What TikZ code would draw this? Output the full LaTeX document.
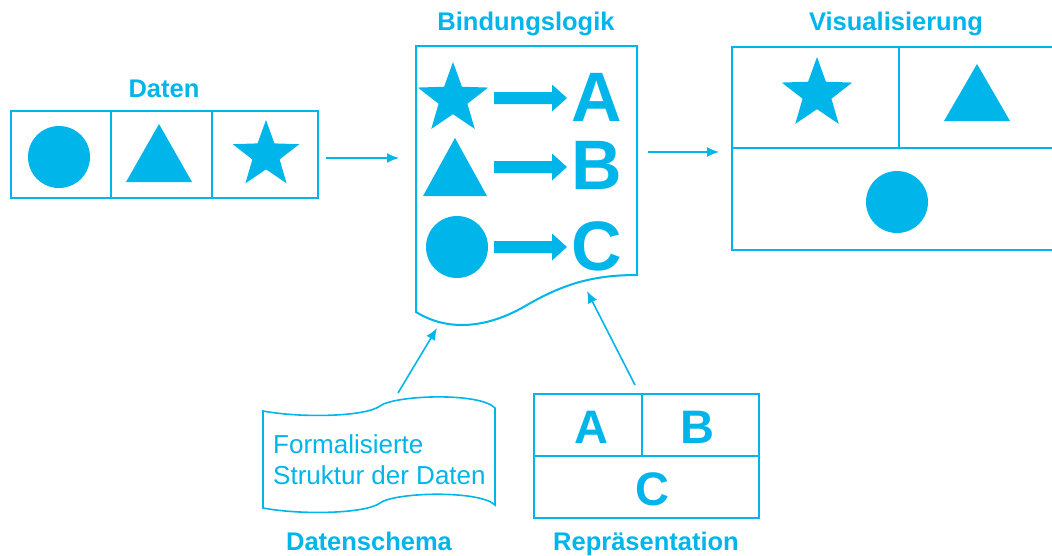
\documentclass[tikz,border=0pt]{standalone}
\usepackage{fontspec}
\setmainfont{Liberation Sans}
\usetikzlibrary{arrows.meta,calc}
\definecolor{cy}{RGB}{0,181,234}
\newcommand\cystar[3]{\fill[cy,shift={(#1,#2)}] (-90:#3) -- (-54:{0.41*#3}) -- (-18:#3) -- (18:{0.41*#3}) -- (54:#3) -- (90:{0.41*#3}) -- (126:#3) -- (162:{0.41*#3}) -- (198:#3) -- (234:{0.41*#3}) -- cycle;}
\newcommand\cytri[4]{\fill[cy] (#1,#2) -- (#3,#4) -- ({2*#1-#3},#4) -- cycle;}
\newcommand\fatarrow[1]{\fill[cy] (494,{#1-6}) -- (552,{#1-6}) -- (552,{#1-13.5}) -- (567,#1) -- (552,{#1+13.5}) -- (552,{#1+6}) -- (494,{#1+6}) -- cycle;}
\begin{document}
\begin{tikzpicture}[x=1pt,y=-1pt, line join=miter,
  box/.style={draw=cy,line width=2pt},
  conn/.style={draw=cy,line width=1.6pt,-{Latex[length=12pt,width=10pt]}},
  lbl/.style={text=cy,font=\bfseries\fontsize{25.5}{30}\selectfont,inner sep=0pt,anchor=base},
  bigl/.style={text=cy,font=\bfseries\fontsize{70}{80}\selectfont,inner sep=0pt},
  midl/.style={text=cy,font=\bfseries\fontsize{47}{54}\selectfont,inner sep=0pt},
  txt/.style={text=cy,font=\fontsize{26}{30}\selectfont,inner sep=0pt,anchor=base west},
  ]
\useasboundingbox (0,0) rectangle (1052,555);
\clip (0,0) rectangle (1052,555);

% ---------- Daten ----------
\node[lbl] (lDaten) at (164,97) {Daten};
\draw[box] (11,111) rectangle (318,198);
\draw[box] (111,111) -- (111,198) (212,111) -- (212,198);
\fill[cy] (59,157) circle (31);
\cytri{159}{124}{126}{182}
\cystar{266}{155}{35}

% ---------- Bindungslogik ----------
\node[lbl] (lBind) at (526,30) {Bindungslogik};
\draw[box] (416,312) -- (416,46) -- (637,46) -- (637,275)
  .. controls (595,275) and (565,283) .. (527,305)
  .. controls (490,327) and (450,333) .. (416,312) -- cycle;
\cystar{453}{99}{37}
\cytri{455}{138}{423}{196}
\fill[cy] (457,247) circle (31);
\fatarrow{98}
\fatarrow{167}
\fatarrow{247}
\node[bigl] (A1) at (597,97) {A};
\node[bigl] (B1) at (597,165) {B};
\node[bigl] (C1) at (597,246) {C};

% ---------- Visualisierung ----------
\node[lbl] (lVis) at (896,30) {Visualisierung};
\draw[box] (1060,47) -- (732,47) -- (732,250) -- (1060,250);
\draw[box] (732,148) -- (1060,148) (899,47) -- (899,148);
\cystar{817}{94}{37}
\cytri{977}{64}{944}{121}
\fill[cy] (897,202) circle (31);

% ---------- Datenschema ----------
\draw[box, line width=1.6pt] (263,411) .. controls (300,418) and (365,417) .. (380,406)
  .. controls (395,395) and (480,392) .. (495,408) -- (495,505)
  .. controls (480,490) and (395,492) .. (380,503)
  .. controls (365,514) and (300,515) .. (263,508) -- cycle;
\node[txt] (t1) at (273,453) {Formalisierte};
\node[txt] (t2) at (273,484) {Struktur der Daten};
\node[lbl] (lSchema) at (369,550) {Datenschema};

% ---------- Repräsentation ----------
\draw[box] (534,394) rectangle (759,518);
\draw[box] (534,456) -- (759,456) (642,394) -- (642,456);
\node[midl] (A2) at (591,427) {A};
\node[midl] (B2) at (697,427) {B};
\node[midl] (C2) at (652,489) {C};
\node[lbl] (lRep) at (646,550) {Repräsentation};

% ---------- connectors ----------
\coordinate (d1) at (326,158);
\coordinate (d2) at (399,158);
\coordinate (v1) at (648,152);
\coordinate (v2) at (719,152);
\coordinate (s1) at (398,393);
\coordinate (s2) at (437,328);
\coordinate (r1) at (635,385);
\coordinate (r2) at (587,291);
\draw[conn] (d1) -- (d2);
\draw[conn] (v1) -- (v2);
\draw[conn] (s1) -- (s2);
\draw[conn] (r1) -- (r2);
\end{tikzpicture}
\end{document}
